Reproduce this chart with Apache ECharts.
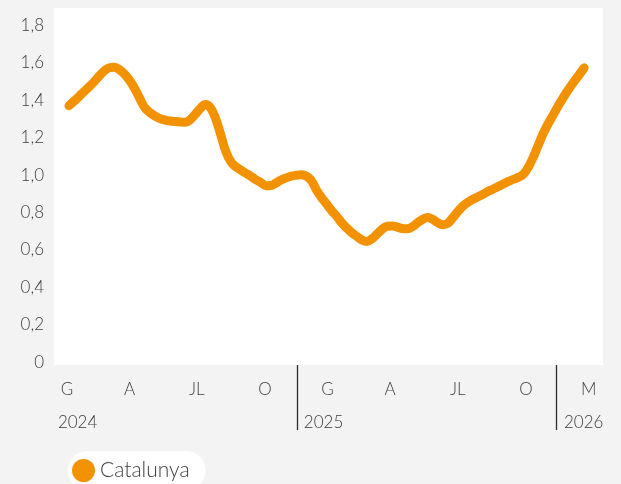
<!DOCTYPE html>
<html>
<head>
<meta charset="utf-8">
<script src="https://cdn.jsdelivr.net/npm/echarts@6/dist/echarts.min.js"></script>
<style>
  html, body { margin: 0; padding: 0; background: #f3f3f3; }
  #chart { width: 621px; height: 484px; }
</style>
</head>
<body>
<div id="chart"></div>
<script>
// valors setmanals (index = setmana des de l'inici de la serie)
const catalunya = [
  1.371, 1.395, 1.42, 1.447, 1.472, 1.50, 1.53, 1.557, 1.574, 1.577,
  1.563, 1.54, 1.506, 1.463, 1.41, 1.36, 1.334, 1.316, 1.302, 1.294,
  1.289, 1.286, 1.284, 1.282, 1.296, 1.325, 1.356, 1.377, 1.36, 1.305,
  1.22, 1.13, 1.073, 1.045, 1.027, 1.01, 0.994, 0.975, 0.96, 0.943,
  0.944, 0.958, 0.974, 0.985, 0.994, 0.999, 1.002, 0.994, 0.97, 0.92,
  0.88, 0.846, 0.81, 0.78, 0.745, 0.717, 0.692, 0.672, 0.653, 0.645,
  0.66, 0.685, 0.71, 0.727, 0.728, 0.722, 0.714, 0.713, 0.724, 0.745,
  0.763, 0.773, 0.764, 0.746, 0.735, 0.742, 0.772, 0.805, 0.834, 0.855,
  0.871, 0.884, 0.898, 0.913, 0.926, 0.939, 0.952, 0.966, 0.977, 0.988,
  1.005, 1.045, 1.10, 1.165, 1.228, 1.28, 1.327, 1.376, 1.42, 1.461,
  1.50, 1.535, 1.573
]

// etiquetes de l'eix x (posicio en setmanes)
const monthLabels = ['G', 'A', 'JL', 'O', 'G', 'A', 'JL', 'O', 'M']
const monthPos = [-0.4, 12.0, 25.3, 38.8, 51.2, 63.6, 77.0, 90.5, 102.9]
const yearLabels = ['2024', '2025', '2026']
const yearPos = [-2.2, 46.5, 98.0]
const yearBreaks = [45.15, 96.5]

const yTicks = [0, 0.2, 0.4, 0.6, 0.8, 1.0, 1.2, 1.4, 1.6, 1.8]

const FONT = 'Lato'
const TXT = '#3d3d3d'

const chart = echarts.init(document.getElementById('chart'))

const option = {
  animation: false,
  backgroundColor: '#f3f3f3',
  textStyle: { fontFamily: FONT },
  grid: {
    left: 54,
    right: 18,
    top: 8,
    bottom: 119,
    show: true,
    backgroundColor: '#ffffff',
    borderWidth: 0
  },
  legend: {
    left: 68,
    top: 451,
    data: ['Catalunya'],
    icon: 'circle',
    itemWidth: 23,
    itemHeight: 23,
    backgroundColor: '#ffffff',
    borderRadius: 20,
    padding: [8, 16, 8, 4],
    textStyle: { fontSize: 21, color: TXT, fontFamily: FONT, fontWeight: 300 }
  },
  xAxis: [
    {
      type: 'value',
      position: 'bottom',
      min: -2.97,
      max: 105.74,
      splitLine: { show: false },
      axisLine: { show: false },
      axisTick: { show: false },
      axisLabel: {
        customValues: monthPos,
        margin: 16,
        fontSize: 17,
        fontWeight: 300,
        color: TXT,
        formatter: (v) => monthLabels[monthPos.indexOf(v)]
      }
    },
    {
      type: 'value',
      position: 'bottom',
      min: -2.97,
      max: 105.74,
      splitLine: { show: false },
      axisLine: { show: false },
      axisTick: {
        show: true,
        customValues: yearBreaks,
        length: 65,
        lineStyle: { color: '#2b2b2b', width: 1.3 }
      },
      axisLabel: {
        customValues: yearPos,
        margin: 49,
        align: 'left',
        fontSize: 17,
        fontWeight: 300,
        color: TXT,
        formatter: (v) => yearLabels[yearPos.indexOf(v)]
      }
    }
  ],
  yAxis: {
    type: 'value',
    min: -0.015,
    max: 1.893,
    splitLine: { show: false },
    axisLine: { show: false },
    axisTick: { show: false },
    axisLabel: {
      customValues: yTicks,
      margin: 10,
      fontSize: 17,
      fontWeight: 300,
      color: TXT,
      formatter: (v) => v === 0 ? '0' : v.toFixed(1).replace('.', ',')
    }
  },
  series: [
    {
      name: 'Catalunya',
      type: 'line',
      xAxisIndex: 0,
      data: catalunya.map((v, i) => [i, v]),
      smooth: 0.4,
      showSymbol: false,
      symbol: 'circle',
      color: '#f39200',
      lineStyle: { width: 9, color: '#f39200', cap: 'round', join: 'round' }
    }
  ]
}

chart.setOption(option)
</script>
</body>
</html>
